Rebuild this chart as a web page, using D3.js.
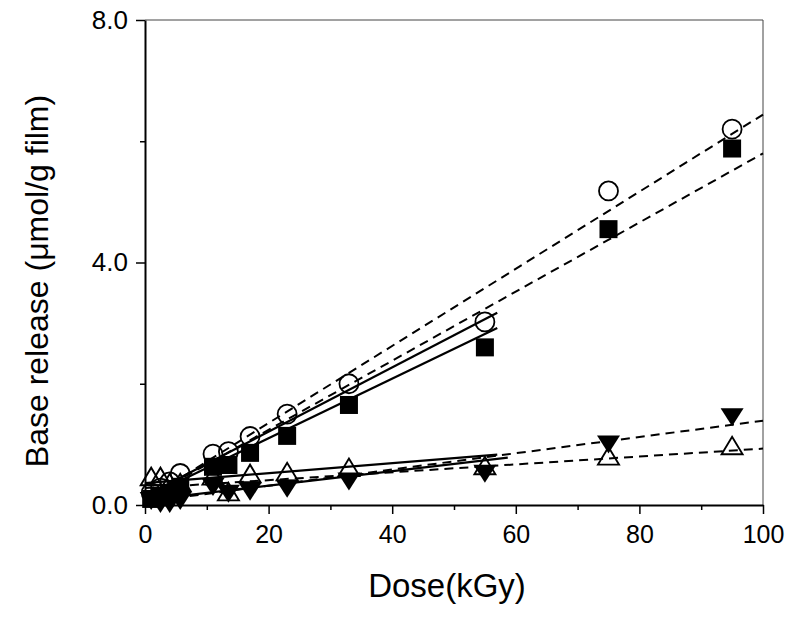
<!DOCTYPE html>
<html>
<head>
<meta charset="utf-8">
<script src="https://cdn.jsdelivr.net/npm/d3@7"></script>
<style>
  body { margin: 0; background: #fff; }
  svg { display: block; font-family: "Liberation Sans", Arial, sans-serif; }
</style>
</head>
<body>
<svg id="chart" width="800" height="619"></svg>
<script>
// doses (kGy) and base release (umol/g film)
var doses = [1, 2.5, 4, 5.7, 11, 13.5, 17, 23, 33, 55, 75, 95];
var circleVals = [0.2, 0.28, 0.38, 0.52, 0.84, 0.88, 1.13, 1.5, 2.0, 3.02, 5.18, 6.2];
var squareVals = [0.1, 0.15, 0.2, 0.3, 0.63, 0.66, 0.86, 1.14, 1.65, 2.6, 4.55, 5.88];
var triUpVals = [0.45, 0.45, 0.35, 0.35, 0.46, 0.2, 0.5, 0.53, 0.6, 0.63, 0.79, 0.96];
var triDownVals = [0.1, 0.05, 0.05, 0.1, 0.33, 0.22, 0.25, 0.3, 0.42, 0.55, 1.03, 1.48];

// fit lines: [x0, y0, x1, y1]
var solidFits = [
    [0, 0.15, 57, 3.17],   // circles
    [0, 0.12, 57, 2.92],   // squares
    [0, 0.36, 57, 0.83],   // up triangles
    [0, 0.08, 58.7, 0.78]  // down triangles
];
var dashedFits = [
    [0, 0.08, 100, 6.44],
    [0, 0.1, 100, 5.8],
    [0, 0.28, 100, 0.93],
    [0, 0.05, 100, 1.39]
];

var xMajor = [0, 20, 40, 60, 80, 100];
var xMinor = [10, 30, 50, 70, 90];
var yMajor = [0, 4, 8];
var yMinor = [2, 6];

var svg = d3.select("#chart");
var mLeft = 145, mRight = 763, mTop = 20, mBottom = 505;

var x = d3.scaleLinear().domain([0, 100]).range([mLeft, mRight]);
var y = d3.scaleLinear().domain([0, 8]).range([mBottom, mTop]);

// frame (top/right thin)
svg.append("line").attr("x1", mLeft).attr("x2", mRight).attr("y1", mTop).attr("y2", mTop)
    .attr("stroke", "#444").attr("stroke-width", 1);
svg.append("line").attr("x1", mRight).attr("x2", mRight).attr("y1", mTop).attr("y2", mBottom)
    .attr("stroke", "#444").attr("stroke-width", 1);

// bottom axis
var xAxis = svg.append("g").attr("transform", "translate(0," + mBottom + ")")
    .call(d3.axisBottom(x).tickValues(xMajor).tickFormat(d3.format("d")).tickSize(9).tickSizeOuter(0));
svg.append("g").attr("transform", "translate(0," + mBottom + ")")
    .call(d3.axisBottom(x).tickValues(xMinor).tickFormat("").tickSize(5).tickSizeOuter(0))
    .select(".domain").remove();

// left axis
var yAxis = svg.append("g").attr("transform", "translate(" + mLeft + ",0)")
    .call(d3.axisLeft(y).tickValues(yMajor).tickFormat(d3.format(".1f")).tickSize(9).tickSizeOuter(0));
svg.append("g").attr("transform", "translate(" + mLeft + ",0)")
    .call(d3.axisLeft(y).tickValues(yMinor).tickFormat("").tickSize(5).tickSizeOuter(0))
    .select(".domain").remove();

svg.selectAll(".domain").attr("stroke", "#000").attr("stroke-width", 2);
svg.selectAll(".tick line").attr("stroke", "#000").attr("stroke-width", 1.5);

xAxis.selectAll(".tick text")
    .attr("font-size", 25).attr("font-family", "Liberation Sans, Arial, sans-serif")
    .attr("fill", "#000").attr("dy", "0.72em").attr("y", 20);
yAxis.selectAll(".tick text")
    .attr("font-size", 26).attr("font-family", "Liberation Sans, Arial, sans-serif")
    .attr("fill", "#000").attr("x", -17);

// axis titles
svg.append("text")
    .attr("x", 447).attr("y", 597)
    .attr("text-anchor", "middle").attr("font-size", 33)
    .text("Dose(kGy)");
svg.append("text")
    .attr("transform", "translate(48,281) rotate(-90)")
    .attr("text-anchor", "middle").attr("font-size", 32)
    .text("Base release (\u03bcmol/g film)");

// fit lines
var plot = svg.append("g");
plot.selectAll(".fit-solid").data(solidFits).enter().append("line")
    .attr("class", "fit-solid")
    .attr("x1", function(d) { return x(d[0]); })
    .attr("y1", function(d) { return y(d[1]); })
    .attr("x2", function(d) { return x(d[2]); })
    .attr("y2", function(d) { return y(d[3]); })
    .attr("stroke", "#000").attr("stroke-width", 2.2);
plot.selectAll(".fit-dash").data(dashedFits).enter().append("line")
    .attr("class", "fit-dash")
    .attr("x1", function(d) { return x(d[0]); })
    .attr("y1", function(d) { return y(d[1]); })
    .attr("x2", function(d) { return x(d[2]); })
    .attr("y2", function(d) { return y(d[3]); })
    .attr("stroke", "#000").attr("stroke-width", 2).attr("stroke-dasharray", "9,6");

// markers
function pts(vals) {
    return vals.map(function(v, i) { return { x: doses[i], y: v }; });
}

plot.selectAll(".sq").data(pts(squareVals)).enter().append("rect")
    .attr("x", function(d) { return x(d.x) - 9; })
    .attr("y", function(d) { return y(d.y) - 9; })
    .attr("width", 18).attr("height", 18).attr("fill", "#000");

plot.selectAll(".tdown").data(pts(triDownVals)).enter().append("path")
    .attr("transform", function(d) { return "translate(" + x(d.x) + "," + y(d.y) + ")"; })
    .attr("d", "M-11.5,-7L11.5,-7L0,11Z").attr("fill", "#000");

plot.selectAll(".tup").data(pts(triUpVals)).enter().append("path")
    .attr("transform", function(d) { return "translate(" + x(d.x) + "," + y(d.y) + ")"; })
    .attr("d", "M-10.5,7.5L10.5,7.5L0,-10Z").attr("fill", "none").attr("stroke", "#000").attr("stroke-width", 1.9);

plot.selectAll(".circ").data(pts(circleVals)).enter().append("circle")
    .attr("cx", function(d) { return x(d.x); })
    .attr("cy", function(d) { return y(d.y); })
    .attr("r", 9.5).attr("fill", "none").attr("stroke", "#000").attr("stroke-width", 1.8);
</script>
</body>
</html>
